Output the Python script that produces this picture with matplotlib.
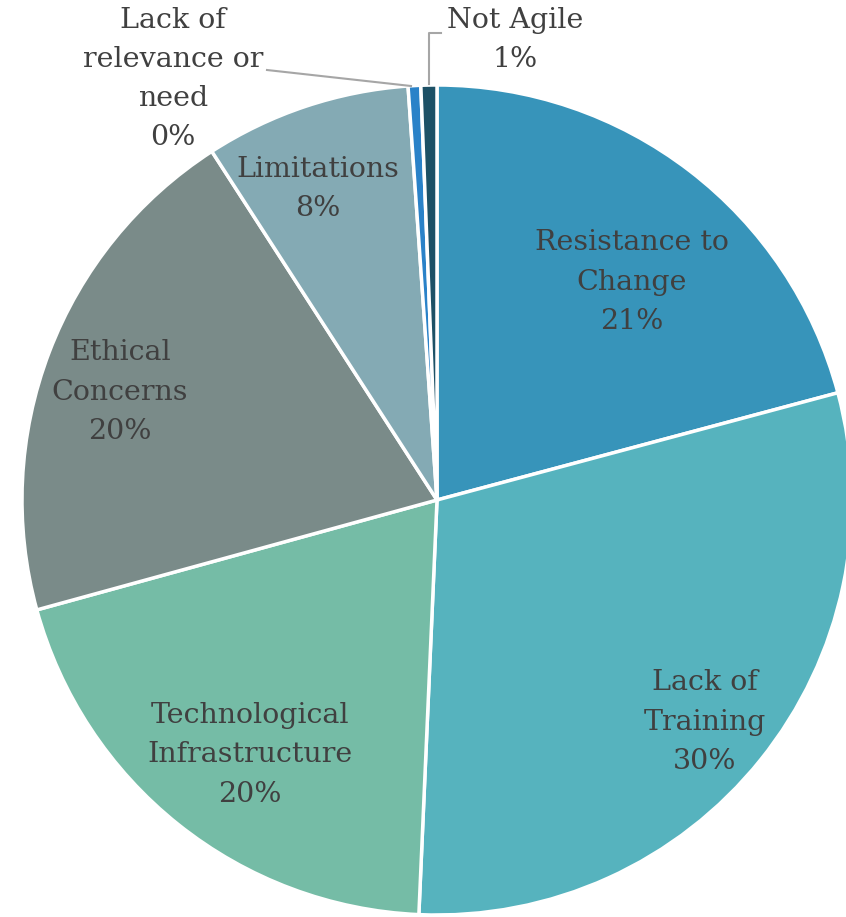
import matplotlib.pyplot as plt

categories = ["Resistance to\nChange", "Lack of\nTraining", "Technological\nInfrastructure",
              "Ethical\nConcerns", "Limitations", "Lack of\nrelevance or\nneed", "Not Agile"]
values = [20.8, 29.8, 20.0, 20.1, 8.0, 0.49, 0.62]
colors = ["#3794BA", "#56B3BE", "#75BCA6", "#7A8B89", "#84AAB4", "#2A82C8", "#1D5166"]

plt.rcParams["font.family"] = "serif"
plt.rcParams["font.serif"] = ["DejaVu Serif"]

W, H = 846, 917
cx, cy = 437, 500
R = 415

fig = plt.figure(figsize=(W / 100, H / 100), dpi=100)
ax = fig.add_axes([0, 0, 1, 1])

wedges, _ = ax.pie(values, colors=colors, startangle=90, counterclock=False, radius=R,
                   wedgeprops=dict(edgecolor="white", linewidth=2.5))

# pie() resets the limits, so set them afterwards (1 data unit = 1 pixel)
ax.set_xlim(-cx, W - cx)
ax.set_ylim(-(H - cy), cy)
ax.set_aspect("equal")
ax.axis("off")

total = sum(values)
pcts = [f"{round(v / total * 100):.0f}%" for v in values]

# label positions in pixels relative to the pie centre (y up)
label_pos = [(195, 218), (268, -222), (-187, -255), (-317, 108), (-119, 311), (-264, 421), (78, 460)]
txt = dict(ha="center", va="center", fontsize=20.5, color="#404040", linespacing=1.58)
for (x, y), name, p in zip(label_pos, categories, pcts):
    ax.text(x, y, f"{name}\n{p}", **txt)

# leader lines for the thin slices
ax.plot([-170, -26], [430, 414], color="#A6A6A6", lw=1.5, clip_on=False)
ax.plot([-8, -8, 4], [416, 467, 467], color="#A6A6A6", lw=1.5, clip_on=False)

fig.savefig("out.png", dpi=100)
